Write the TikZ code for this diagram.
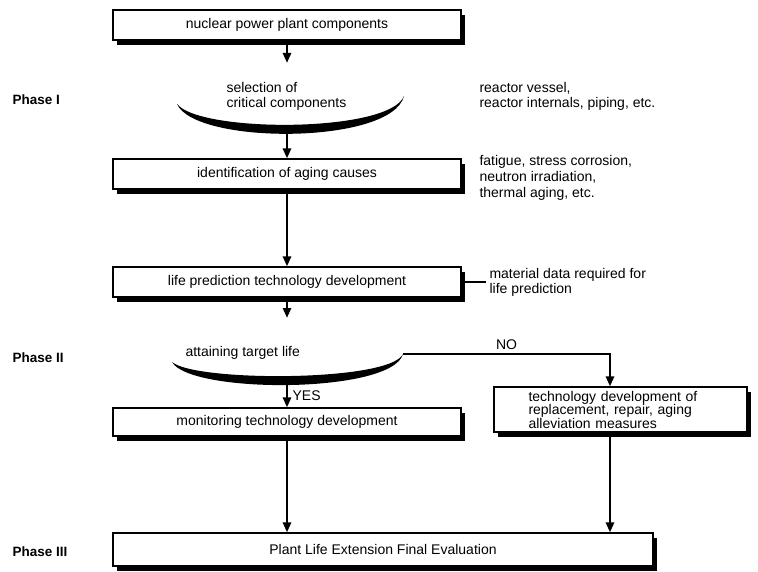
\documentclass[tikz,border=0pt]{standalone}
\usepackage{fontspec}
\setmainfont{Liberation Sans}
\usetikzlibrary{arrows.meta,shadows}
\begin{document}
\begin{tikzpicture}[x=1pt,y=-1pt,
    every node/.style={font=\fontsize{14}{15}\selectfont},
    box/.style={draw,line width=1.1pt,fill=white,minimum height=30,inner sep=0,
      drop shadow={shadow xshift=4pt,shadow yshift=-5pt,fill=black,opacity=1}},
    flow/.style={line width=2.6pt,-{Triangle[length=10pt,width=8pt]}},
    phase/.style={anchor=west,font=\fontsize{13.5}{16}\selectfont\bfseries}]
    \useasboundingbox (0,0) rectangle (758,572);
    \node [phase] (p1) at (9,100) {Phase I};
    \node [phase] (p2) at (9,358) {Phase II};
    \node [phase] (p3) at (9,552) {Phase III};
    \node [box,minimum width=348] (plant) at (287,25) {nuclear power plant components};
    \node [anchor=west,align=left] (sel) at (223,96) {selection of\\critical components};
    \node [anchor=west,align=left] (crit) at (476,96) {reactor vessel,\\reactor internals, piping, etc.};
    \node [box,minimum width=348] (aging) at (287,174) {identification of aging causes};
    \node [anchor=west,align=left,font=\fontsize{14}{16}\selectfont] (causes) at (476,178) {fatigue, stress corrosion,\\neutron irradiation,\\thermal aging, etc.};
    \node [box,minimum width=348] (pred) at (287,282) {life prediction technology development};
    \node [anchor=west,align=left] (data) at (486,282) {material data required for\\life prediction};
    \node [anchor=west] (target) at (182,353) {attaining target life};
    \node [box,minimum width=348,minimum height=28] (mon) at (287,422) {monitoring technology development};
    \node [box,minimum width=253,minimum height=45,text width=184,align=left,
      font=\fontsize{14}{13.5}\selectfont] (repl) at (620.5,409.5)
      {technology development of\\replacement, repair, aging\\alleviation measures};
    \node [box,minimum width=540,minimum height=33] (final) at (383,549.5) {Plant Life Extension Final Evaluation};
    % bowls
    \fill (177,104) .. controls (195,145) and (392,145) .. (404,96) .. controls (390,133) and (200,133) .. (177,104) -- cycle;
    \fill (172,362) .. controls (190,394) and (392,394) .. (403,354) .. controls (390,382) and (195,382) .. (172,362) -- cycle;
    \coordinate (selin) at (287,63);
    \coordinate (b1) at (287,133);
    \coordinate (tgtin) at (287,318);
    \coordinate (b2) at (287,383);
    \coordinate (b2r) at (403,354);
    \coordinate (no) at (610,354);
    % connectors
    \draw [flow] (plant) -- (selin);
    \draw [flow] (b1) -- (aging);
    \draw [flow] (aging) -- (pred);
    \draw [flow] (pred) -- (tgtin);
    \draw [line width=2.6pt] (pred.east) -- (data.west);
    \draw [flow] (b2) -- node [right,xshift=1] (yes) {YES} (mon);
    \draw [flow] (b2r) -- node [above] (nolbl) {NO} (no) -- (repl.north -| no);
    \draw [flow] (mon) -- (final.north -| mon);
    \draw [flow] (repl.south -| no) -- (final.north -| no);
\end{tikzpicture}
\end{document}
